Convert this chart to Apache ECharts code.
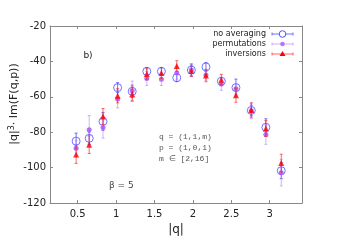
<!DOCTYPE html>
<html><head><meta charset="utf-8">
<script src="https://cdn.jsdelivr.net/npm/echarts@6/dist/echarts.min.js"></script>
<style>html,body{margin:0;padding:0;background:#fff}#c{width:341px;height:241px}</style>
</head><body><div id="c"></div>
<script>
const qVals = [0.48, 0.65, 0.83, 1.02, 1.21, 1.40, 1.59, 1.79, 1.98, 2.17, 2.37, 2.56, 2.76, 2.95, 3.15];
const noAvg = [-85.0, -83.4, -73.9, -54.8, -56.9, -45.6, -45.6, -49.2, -44.9, -43.1, -51.2, -54.8, -67.7, -77.2, -101.7];
const noAvgErr = [4.5, 3.5, 5.0, 2.8, 3.5, 2.2, 2.0, 2.2, 3.5, 2.5, 2.2, 4.8, 3.0, 4.8, 4.5];
const perm = [-89.0, -78.6, -77.3, -61.2, -56.6, -49.6, -50.1, -46.5, -44.9, -47.6, -52.8, -55.5, -67.8, -81.3, -102.8];
const permErr = [4.5, 8.0, 6.0, 5.0, 5.5, 4.0, 3.5, 3.5, 3.0, 3.0, 3.5, 3.0, 4.5, 5.5, 7.5];
const inv = [-92.6, -87.0, -71.1, -59.4, -58.5, -47.1, -46.5, -42.6, -45.4, -48.0, -50.3, -59.1, -67.5, -77.9, -97.4];
const invErr = [5.0, 5.0, 4.5, 4.0, 4.0, 3.0, 3.0, 3.0, 3.0, 3.5, 3.0, 4.0, 4.0, 4.5, 5.0];
const xTicks = [0.5, 1, 1.5, 2, 2.5, 3];
const seriesNames = ['no averaging', 'permutations', 'inversions'];
const annotLines = ['q = (1,1,m)', 'p = (1,0,1)', 'm \u2208 [2,16]'];

const cBlue = '#5050ff', cPurple = '#a858f8', cRed = '#ff0000';
const eBlue = 'rgba(70,70,255,0.75)', ePurple = 'rgba(175,115,250,0.55)', eRed = 'rgba(255,40,40,0.7)';

function pts(ys){ return qVals.map((q,i)=>[q, ys[i]]); }
function errPts(ys, es){ return qVals.map((q,i)=>[q, ys[i], es[i]]); }
function errSeries(data, color, z){
  return {
    type:'custom', data:data, z:z, silent:true,
    renderItem:function(params, api){
      const x=api.value(0), y=api.value(1), e=api.value(2);
      const a=api.coord([x,y+e]), b=api.coord([x,y-e]);
      const st={stroke:color, lineWidth:1};
      return {type:'group', children:[
        {type:'line', shape:{x1:a[0],y1:a[1],x2:b[0],y2:b[1]}, style:st},
        {type:'line', shape:{x1:a[0]-1.5,y1:a[1],x2:a[0]+1.5,y2:a[1]}, style:st},
        {type:'line', shape:{x1:b[0]-1.5,y1:b[1],x2:b[0]+1.5,y2:b[1]}, style:st}
      ]};
    }
  };
}

const chart = echarts.init(document.getElementById('c'), null, {renderer:'canvas'});
const axisCol = '#888';
const lblStyle = {color:'#222', fontSize:10, fontFamily:'DejaVu Sans'};

const legendG = [];
const legColors = [[eBlue,cBlue,'empty'],[ePurple,cPurple,'dot'],[eRed,cRed,'tri']];
const legY = [34, 44, 54];
seriesNames.forEach((n,i)=>{
  const y = legY[i], col = legColors[i];
  legendG.push({type:'text', x:266, y:y, style:{text:n, fill:'#222', font:'8px "DejaVu Sans"', align:'right', verticalAlign:'middle'}});
  legendG.push({type:'line', shape:{x1:272,y1:y,x2:293,y2:y}, style:{stroke:col[0], lineWidth:1}});
  legendG.push({type:'line', shape:{x1:272,y1:y-1.5,x2:272,y2:y+1.5}, style:{stroke:col[0], lineWidth:1}});
  legendG.push({type:'line', shape:{x1:293,y1:y-1.5,x2:293,y2:y+1.5}, style:{stroke:col[0], lineWidth:1}});
  if(col[2]==='empty') legendG.push({type:'circle', shape:{cx:282.5,cy:y,r:3.3}, style:{fill:'#fff', stroke:col[1], lineWidth:1}});
  else if(col[2]==='dot') legendG.push({type:'circle', shape:{cx:282.5,cy:y,r:2.3}, style:{fill:col[1], opacity:0.8}});
  else legendG.push({type:'polygon', shape:{points:[[282.5,y-3],[279.5,y+2],[285.5,y+2]]}, style:{fill:col[1]}});
});

const graphics = legendG.concat([
  {type:'text', x:88, y:56, style:{text:'b)', fill:'#222', font:'9px "DejaVu Sans"', align:'center', verticalAlign:'middle'}},
  {type:'text', x:159, y:137, style:{text:annotLines[0], fill:'#555', font:'8px "Liberation Mono"', verticalAlign:'middle'}},
  {type:'text', x:159, y:148, style:{text:annotLines[1], fill:'#555', font:'8px "Liberation Mono"', verticalAlign:'middle'}},
  {type:'text', x:159, y:159, style:{text:annotLines[2], fill:'#555', font:'8px "Liberation Mono"', verticalAlign:'middle'}},
  {type:'text', x:109, y:186, style:{text:'\u03b2 = 5', fill:'#444', font:'9px "DejaVu Sans"', verticalAlign:'middle'}},
  {type:'text', x:14, y:104, rotation:Math.PI/2, style:{text:'|q|{s|3}\u00b7 Im(F(q,p))', rich:{s:{fontSize:8, verticalAlign:'top', fill:'#222', fontFamily:'DejaVu Sans', padding:[0,0,5,0]}}, fill:'#222', font:'11px "DejaVu Sans"', align:'center', verticalAlign:'middle'}}
]);

const option = {
  animation:false,
  backgroundColor:'#fff',
  grid:{left:50, right:39, top:26, bottom:29, show:false},
  xAxis:[
    {type:'value', min:0.14, max:3.42, position:'bottom',
     name:'|q|', nameLocation:'middle', nameGap:18, nameTextStyle:{color:'#222', fontSize:12, fontFamily:'DejaVu Sans'},
     axisLine:{show:true, onZero:false, lineStyle:{color:axisCol, width:1}},
     axisTick:{show:true, inside:true, length:3, customValues:xTicks, lineStyle:{color:axisCol}},
     axisLabel:{customValues:xTicks, margin:6, ...lblStyle, formatter:v=>String(v)},
     splitLine:{show:false}},
    {type:'value', min:0.14, max:3.42, position:'top',
     axisLine:{show:true, onZero:false, lineStyle:{color:axisCol, width:1}},
     axisTick:{show:true, inside:true, length:3, customValues:xTicks, lineStyle:{color:axisCol}},
     axisLabel:{show:false}, splitLine:{show:false}}
  ],
  yAxis:[
    {type:'value', min:-120, max:-20, interval:20, position:'left',
     axisLine:{show:true, onZero:false, lineStyle:{color:axisCol, width:1}},
     axisTick:{show:true, inside:true, length:3, lineStyle:{color:axisCol}},
     axisLabel:{margin:4, ...lblStyle},
     splitLine:{show:false}},
    {type:'value', min:-120, max:-20, interval:20, position:'right',
     axisLine:{show:true, onZero:false, lineStyle:{color:axisCol, width:1}},
     axisTick:{show:true, inside:true, length:3, lineStyle:{color:axisCol}},
     axisLabel:{show:false}, splitLine:{show:false}}
  ],
  series:[
    errSeries(errPts(noAvg,noAvgErr), eBlue, 1),
    {name:seriesNames[0], type:'scatter', data:pts(noAvg), symbol:'circle', symbolSize:8, z:2,
     itemStyle:{color:'rgba(255,255,255,0)', borderColor:cBlue, borderWidth:1}},
    errSeries(errPts(perm,permErr), ePurple, 3),
    {name:seriesNames[1], type:'scatter', data:pts(perm), symbol:'circle', symbolSize:5, z:4,
     itemStyle:{color:cPurple, opacity:0.85}},
    errSeries(errPts(inv,invErr), eRed, 5),
    {name:seriesNames[2], type:'scatter', data:pts(inv), symbol:'triangle', symbolSize:6, z:6,
     itemStyle:{color:cRed}}
  ],
  graphic:graphics
};
chart.setOption(option);
</script>
</body></html>
